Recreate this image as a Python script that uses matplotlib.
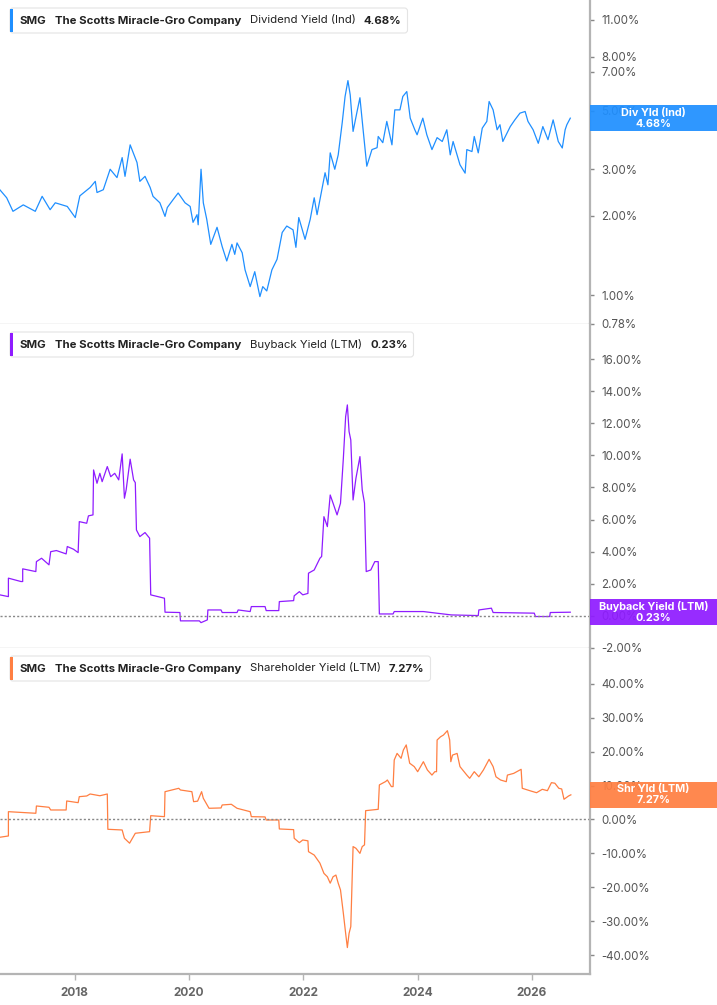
import matplotlib
matplotlib.use("Agg")
import matplotlib.pyplot as plt
from matplotlib.patches import Rectangle, FancyBboxPatch
from matplotlib.transforms import IdentityTransform

plt.rcParams['font.family'] = ['Inter', 'DejaVu Sans']

TICKER = "SMG"
COMPANY = "The Scotts Miracle-Gro Company"

YEARS = [2018, 2020, 2022, 2024, 2026]
XLIM = (2016.693, 2027.015)

# dividend yield (indicated), %  -- decimal years
div_t = [2016.69, 2016.81, 2016.92, 2017.10, 2017.31, 2017.43, 2017.57, 2017.66, 2017.87, 2018.01,
         2018.09, 2018.27, 2018.36, 2018.39, 2018.50, 2018.62, 2018.74, 2018.83, 2018.88, 2018.97,
         2019.09, 2019.14, 2019.23, 2019.32, 2019.37, 2019.49, 2019.58, 2019.62, 2019.72, 2019.81,
         2019.93, 2020.02, 2020.07, 2020.14, 2020.16, 2020.21, 2020.25, 2020.31, 2020.38, 2020.49,
         2020.58, 2020.66, 2020.75, 2020.80, 2020.84, 2020.93, 2020.98, 2021.07, 2021.15, 2021.24,
         2021.29, 2021.36, 2021.45, 2021.54, 2021.63, 2021.71, 2021.82, 2021.87, 2021.92, 2022.03,
         2022.12, 2022.19, 2022.24, 2022.29, 2022.38, 2022.43, 2022.47, 2022.55, 2022.61, 2022.68,
         2022.73, 2022.78, 2022.82, 2022.87, 2022.94, 2022.99, 2023.04, 2023.11, 2023.20, 2023.29,
         2023.31, 2023.39, 2023.46, 2023.55, 2023.60, 2023.69, 2023.74, 2023.81, 2023.87, 2023.95,
         2023.99, 2024.09, 2024.16, 2024.25, 2024.34, 2024.43, 2024.51, 2024.57, 2024.62, 2024.74,
         2024.83, 2024.86, 2024.95, 2024.99, 2025.06, 2025.13, 2025.21, 2025.25, 2025.32, 2025.39,
         2025.44, 2025.49, 2025.62, 2025.70, 2025.79, 2025.88, 2025.93, 2026.02, 2026.11, 2026.19,
         2026.28, 2026.37, 2026.46, 2026.53, 2026.58, 2026.61, 2026.67]
div_v = [2.51, 2.34, 2.08, 2.20, 2.08, 2.37, 2.11, 2.24, 2.17, 1.97,
         2.38, 2.56, 2.70, 2.45, 2.51, 3.00, 2.79, 3.32, 2.82, 3.71,
         3.18, 2.70, 2.82, 2.56, 2.37, 2.24, 1.99, 2.15, 2.30, 2.44,
         2.24, 2.17, 1.89, 2.02, 1.85, 3.00, 2.24, 1.94, 1.56, 1.81,
         1.53, 1.35, 1.56, 1.43, 1.58, 1.45, 1.25, 1.08, 1.23, 0.99,
         1.08, 1.04, 1.25, 1.37, 1.73, 1.83, 1.77, 1.52, 1.97, 1.63,
         1.94, 2.34, 2.02, 2.30, 2.91, 2.62, 3.46, 3.00, 3.40, 4.50,
         5.65, 6.49, 5.73, 4.17, 4.96, 5.59, 4.35, 3.08, 3.56, 3.62,
         3.99, 3.78, 4.55, 3.71, 5.03, 5.03, 5.65, 5.90, 4.68, 4.23,
         4.05, 4.68, 4.05, 3.56, 3.95, 3.82, 4.23, 3.40, 3.82, 3.12,
         2.90, 3.56, 3.50, 3.99, 3.46, 4.29, 4.55, 5.41, 5.03, 4.23,
         4.42, 3.82, 4.35, 4.61, 4.89, 4.96, 4.55, 4.23, 3.76, 4.35,
         3.88, 4.61, 3.82, 3.61, 4.23, 4.42, 4.68]

# buyback yield (LTM), %
bb_t = [2016.69, 2016.84, 2016.84, 2017.06, 2017.09, 2017.09, 2017.32, 2017.33, 2017.42, 2017.55,
        2017.58, 2017.68, 2017.85, 2017.87, 2017.98, 2018.06, 2018.08, 2018.21, 2018.24, 2018.32,
        2018.33, 2018.39, 2018.44, 2018.48, 2018.57, 2018.63, 2018.70, 2018.77, 2018.83, 2018.87,
        2018.90, 2018.97, 2019.03, 2019.06, 2019.08, 2019.14, 2019.23, 2019.31, 2019.33, 2019.57,
        2019.58, 2019.84, 2019.85, 2020.18, 2020.21, 2020.32, 2020.33, 2020.56, 2020.58, 2020.84,
        2020.86, 2021.07, 2021.09, 2021.33, 2021.35, 2021.57, 2021.58, 2021.83, 2021.84, 2021.93,
        2021.99, 2022.08, 2022.09, 2022.19, 2022.29, 2022.32, 2022.36, 2022.42, 2022.47, 2022.52,
        2022.59, 2022.65, 2022.70, 2022.74, 2022.77, 2022.80, 2022.83, 2022.87, 2022.92, 2022.99,
        2023.03, 2023.07, 2023.10, 2023.18, 2023.25, 2023.31, 2023.33, 2023.57, 2023.59, 2024.10,
        2024.33, 2024.59, 2025.06, 2025.07, 2025.29, 2025.32, 2026.04, 2026.06, 2026.31, 2026.32,
        2026.67]
bb_v = [1.31, 1.20, 2.35, 2.14, 2.14, 2.93, 2.76, 3.38, 3.59, 3.18,
        4.00, 4.07, 3.86, 4.32, 4.15, 3.94, 5.87, 5.77, 6.23, 6.29,
        9.09, 8.26, 8.88, 8.36, 9.30, 8.67, 8.88, 8.47, 10.09, 7.33,
        7.85, 9.76, 8.47, 8.30, 5.35, 4.94, 5.19, 4.84, 1.31, 1.10,
        0.23, 0.21, -0.31, -0.31, -0.42, -0.25, 0.37, 0.37, 0.21, 0.21,
        0.37, 0.27, 0.58, 0.58, 0.33, 0.33, 0.89, 0.95, 1.25, 1.51,
        1.31, 1.40, 2.66, 2.86, 3.59, 3.70, 6.18, 5.56, 7.53, 7.02,
        6.29, 7.02, 9.82, 12.41, 13.14, 11.48, 10.96, 7.22, 8.57, 9.92,
        7.85, 7.02, 2.76, 2.86, 3.38, 3.38, 0.12, 0.12, 0.27, 0.27,
        0.17, 0.06, 0.02, 0.37, 0.48, 0.21, 0.17, -0.04, -0.04, 0.21,
        0.23]

# shareholder yield (LTM), %
sy_t = [2016.69, 2016.84, 2016.84, 2017.32, 2017.33, 2017.55, 2017.58, 2017.85, 2017.86, 2018.06,
        2018.08, 2018.21, 2018.27, 2018.44, 2018.57, 2018.58, 2018.83, 2018.87, 2018.96, 2019.06,
        2019.31, 2019.33, 2019.57, 2019.58, 2019.82, 2019.85, 2020.05, 2020.08, 2020.15, 2020.22,
        2020.25, 2020.35, 2020.56, 2020.58, 2020.74, 2020.84, 2021.07, 2021.09, 2021.33, 2021.35,
        2021.57, 2021.58, 2021.83, 2021.84, 2021.93, 2021.99, 2022.08, 2022.09, 2022.19, 2022.29,
        2022.36, 2022.42, 2022.47, 2022.52, 2022.57, 2022.61, 2022.65, 2022.70, 2022.74, 2022.77,
        2022.80, 2022.83, 2022.87, 2022.92, 2022.99, 2023.03, 2023.07, 2023.09, 2023.31, 2023.33,
        2023.44, 2023.47, 2023.54, 2023.57, 2023.59, 2023.64, 2023.71, 2023.75, 2023.80, 2023.86,
        2023.94, 2024.00, 2024.10, 2024.17, 2024.25, 2024.30, 2024.33, 2024.34, 2024.40, 2024.45,
        2024.52, 2024.56, 2024.58, 2024.61, 2024.69, 2024.74, 2024.86, 2024.91, 2024.99, 2025.07,
        2025.15, 2025.25, 2025.32, 2025.37, 2025.45, 2025.55, 2025.57, 2025.68, 2025.81, 2025.83,
        2025.98, 2026.08, 2026.18, 2026.27, 2026.34, 2026.40, 2026.47, 2026.52, 2026.56, 2026.64,
        2026.68]
sy_v = [-5.25, -4.87, 2.30, 1.83, 3.98, 3.60, 2.80, 2.80, 5.46, 4.96,
        6.73, 6.93, 7.52, 7.00, 7.52, -2.90, -3.10, -5.55, -7.00, -4.07,
        -3.60, 1.12, 0.83, 8.20, 9.20, 8.70, 8.20, 5.25, 5.40, 8.20,
        6.25, 3.30, 3.40, 4.28, 4.48, 3.30, 2.30, 0.83, 0.75, -0.15,
        -0.15, -2.80, -3.00, -5.55, -6.84, -6.05, -6.30, -9.50, -10.5, -12.9,
        -15.9, -16.9, -18.8, -16.9, -16.4, -18.8, -20.8, -27.7, -33.6, -37.8,
        -33.6, -31.6, -8.0, -8.5, -10.0, -8.0, -7.5, 2.60, 3.00, 10.2,
        11.2, 11.65, 9.70, 9.70, 17.55, 19.5, 18.05, 20.5, 22.0, 16.6,
        15.6, 14.1, 17.05, 14.6, 13.1, 14.1, 14.1, 23.45, 24.4, 24.9,
        26.2, 23.45, 17.05, 19.0, 19.5, 15.6, 13.1, 12.15, 14.1, 12.6,
        14.6, 17.75, 15.6, 12.6, 11.65, 11.15, 13.1, 13.6, 14.8, 9.2,
        8.4, 7.9, 8.9, 8.5, 10.86, 10.7, 9.2, 9.0, 5.96, 6.93,
        7.27]

DIV_TICKS = [0.78, 1, 2, 3, 5, 7, 8, 11]
BB_TICKS = [-2, 0, 2, 4, 6, 8, 10, 12, 14, 16]
SY_TICKS = [-40, -30, -20, -10, 0, 10, 20, 30, 40]

panels = [
    dict(name="Dividend Yield (Ind)", short="Div Yld (Ind)", t=div_t, v=div_v, last=4.68,
         color="#1f8fff", ticks=DIV_TICKS, ylim=(0.78, 13.09), log=True, zero=False),
    dict(name="Buyback Yield (LTM)", short="Buyback Yield (LTM)", t=bb_t, v=bb_v, last=0.23,
         color="#8f1cff", ticks=BB_TICKS, ylim=(-2.0, 18.18), log=False, zero=True),
    dict(name="Shareholder Yield (LTM)", short="Shr Yld (LTM)", t=sy_t, v=sy_v, last=7.27,
         color="#ff7f42", ticks=SY_TICKS, ylim=(-45.6, 50.6), log=False, zero=True),
]

W, H = 717, 1005
fig = plt.figure(figsize=(W / 100, H / 100), dpi=100)
RIGHT = 590 / W
boxes = [(0, 324), (324, 648), (648, 974)]

axes = []
for i, (p, (top, bot)) in enumerate(zip(panels, boxes)):
    ax = fig.add_axes([0, 1 - bot / H, RIGHT, (bot - top) / H])
    axes.append(ax)
    ax.plot(p["t"], p["v"], color=p["color"], lw=0.9)
    if p["log"]:
        ax.set_yscale("log")
    ax.set_xlim(*XLIM)
    ax.set_ylim(*p["ylim"])
    ax.yaxis.tick_right()
    ax.set_yticks(p["ticks"])
    ax.set_yticklabels([f"{v:.2f}%" for v in p["ticks"]])
    ax.minorticks_off()
    ax.tick_params(axis="y", which="major", direction="out", length=3, width=1,
                   color="#888888", pad=5, labelsize=8.3, labelcolor="#555555")
    if p["zero"]:
        ax.axhline(0, color="#888888", lw=1, ls=(0, (1.5, 1.5)))
    for s in ["left", "top"]:
        ax.spines[s].set_visible(False)
    ax.spines["right"].set_color("#b4b4b4")
    ax.spines["right"].set_linewidth(1.6)
    ax.set_xticks(YEARS)
    if i < 2:
        ax.spines["bottom"].set_color("#cccccc")
        ax.spines["bottom"].set_linewidth(1.0)
        ax.tick_params(axis="x", length=0, labelbottom=False)
    else:
        ax.spines["bottom"].set_color("#b4b4b4")
        ax.spines["bottom"].set_linewidth(1.6)
        ax.set_xticklabels([str(y) for y in YEARS])
        ax.tick_params(axis="x", direction="out", length=4, width=1, color="#b4b4b4",
                       pad=5, labelsize=8.5, labelcolor="#666666")
        for lab in ax.get_xticklabels():
            lab.set_fontweight("bold")

renderer = fig.canvas.get_renderer()

# header boxes
for p, (top, bot) in zip(panels, boxes):
    yc = H - (top + 20.5)
    parts = [(TICKER, "bold", 8), (COMPANY, "bold", 9), (p["name"], "normal", 8), (f"{p['last']:.2f}%", "bold", 0)]
    x = 20
    for txt, wt, gap in parts:
        t = fig.text(x / W, yc / H, txt, fontsize=8.2, fontweight=wt, color="#222222",
                     ha="left", va="center", zorder=12)
        bb = t.get_window_extent(renderer)
        x = bb.x1 + gap
    box = FancyBboxPatch((10, H - (top + 33)), x + 6 - 10, 25,
                         boxstyle="round,pad=0,rounding_size=3", transform=IdentityTransform(),
                         facecolor="white", edgecolor="#e4e4e4", lw=0.8, zorder=11)
    fig.patches.append(box)
    bar = Rectangle((10, H - (top + 32)), 3, 23, transform=IdentityTransform(),
                    facecolor=p["color"], edgecolor="none", zorder=12)
    fig.patches.append(bar)

# last-value tags on the right axis (the tick label under it shows through faintly)
for p, ax in zip(panels, axes):
    yd = ax.transData.transform((XLIM[0], p["last"]))[1]
    tag = Rectangle((590, yd - 13), W - 590, 26, transform=IdentityTransform(),
                    facecolor=p["color"], edgecolor="none", alpha=0.93, zorder=11)
    fig.patches.append(tag)
    fig.text((590 + W) / 2 / W, yd / H, f"{p['short']}\n{p['last']:.2f}%", fontsize=7.8,
             fontweight="bold", color="white", ha="center", va="center",
             linespacing=1.1, zorder=12)

fig.savefig("out.png", dpi=100)
